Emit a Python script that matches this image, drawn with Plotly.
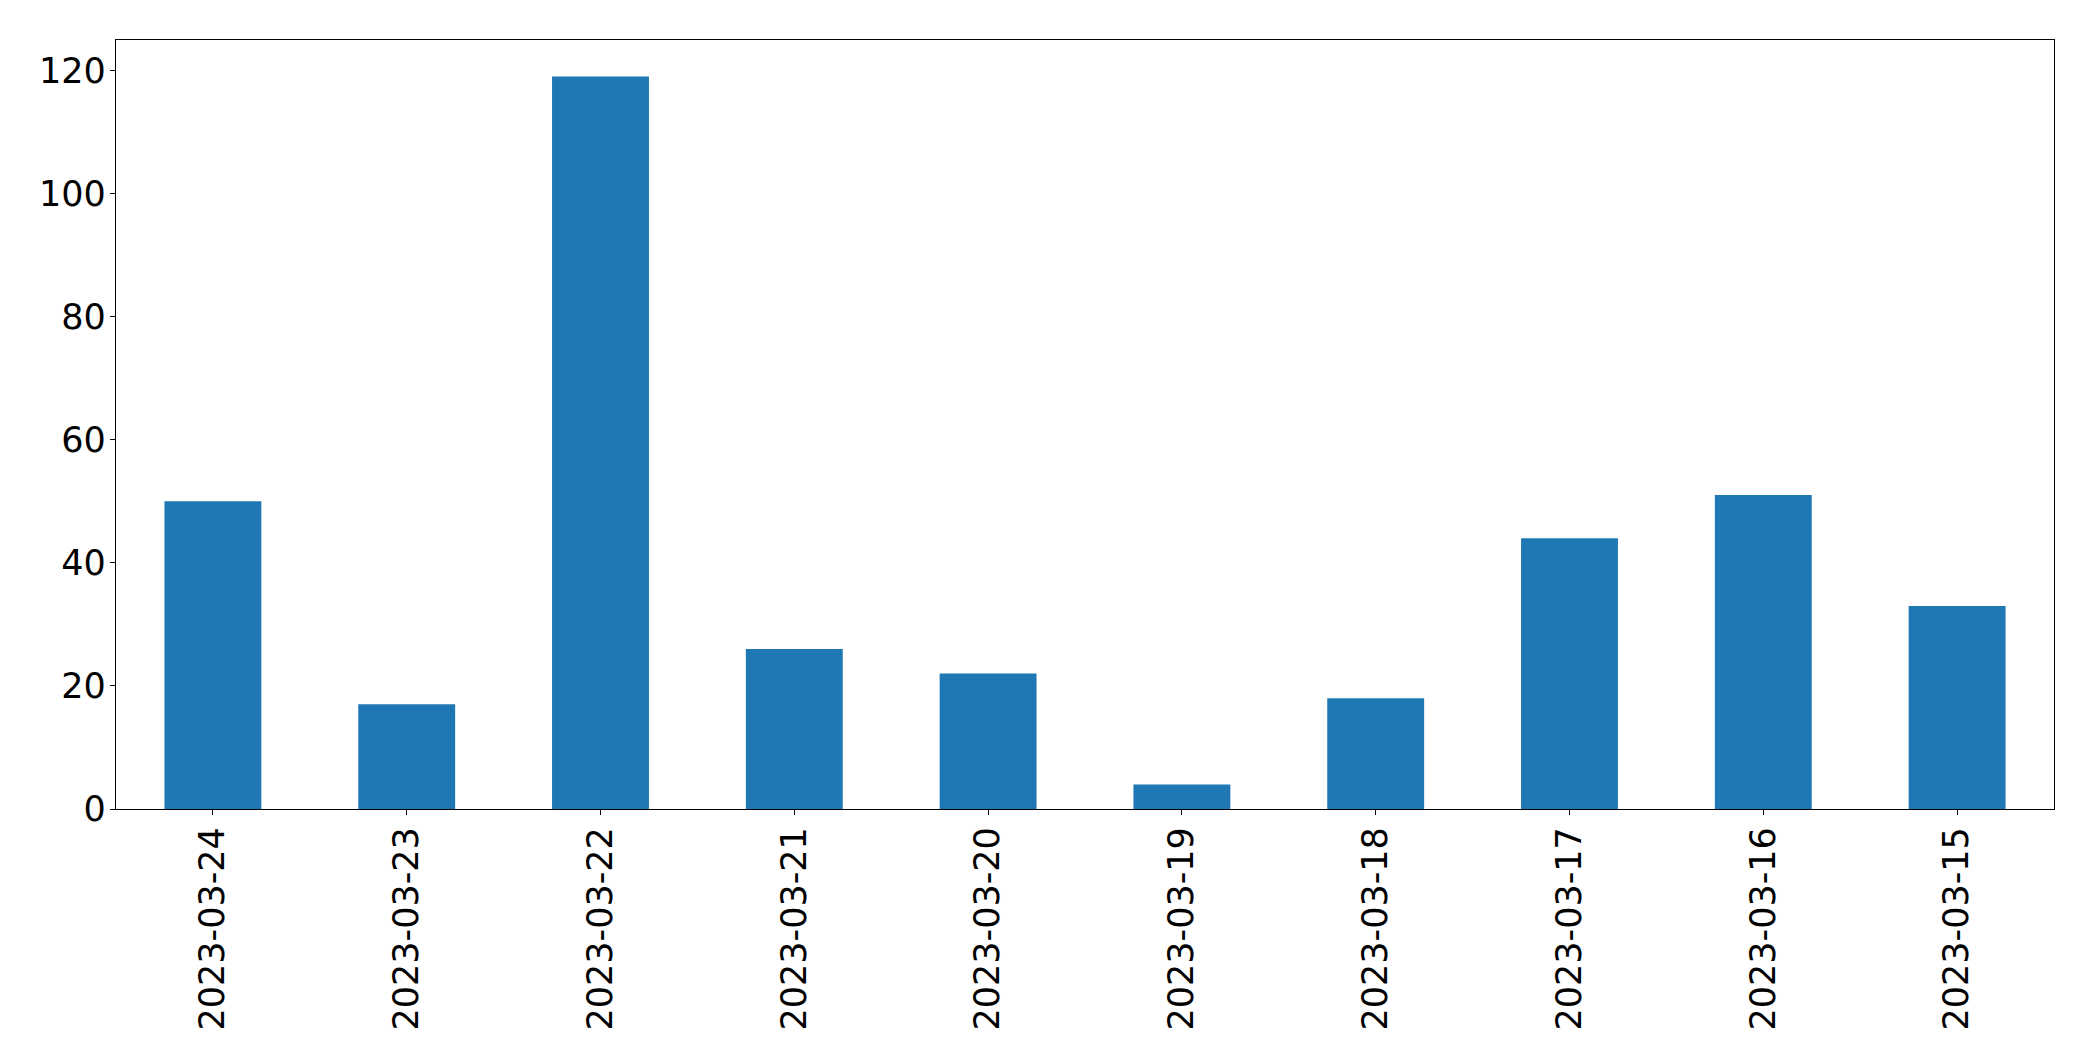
import plotly.graph_objects as go

dates = ["2023-03-24", "2023-03-23", "2023-03-22", "2023-03-21", "2023-03-20",
         "2023-03-19", "2023-03-18", "2023-03-17", "2023-03-16", "2023-03-15"]
counts = [50, 17, 119, 26, 22, 4, 18, 44, 51, 33]
y_ticks = [0, 20, 40, 60, 80, 100, 120]

fig = go.Figure(go.Bar(x=dates, y=counts, marker=dict(color="#1f77b4", line=dict(width=0))))

font = dict(family="DejaVu Sans", size=35, color="black")
fig.update_layout(
    template="none",
    width=2093, height=1061,
    margin=dict(l=108, r=47, t=32, b=260, autoexpand=False),
    paper_bgcolor="white", plot_bgcolor="white",
    bargap=0.5,
    showlegend=False,
    font=font,
)
fig.update_xaxes(
    type="category", tickangle=-90, tickfont=font, automargin=False,
    showline=True, linecolor="black", linewidth=1.3, mirror=True,
    ticks="outside", ticklen=5, tickwidth=1.3, tickcolor="black",
    showgrid=False, zeroline=False, range=[-0.5, 9.5],
    ticklabelstandoff=-2,
)
fig.update_yaxes(
    range=[0, 124.95], tickvals=y_ticks, tickfont=font, automargin=False,
    showline=True, linecolor="black", linewidth=1.3, mirror=True,
    ticks="outside", ticklen=5, tickwidth=1.3, tickcolor="black",
    showgrid=False, zeroline=False,
    ticklabelstandoff=-3,
)

fig.write_html("out.html")
